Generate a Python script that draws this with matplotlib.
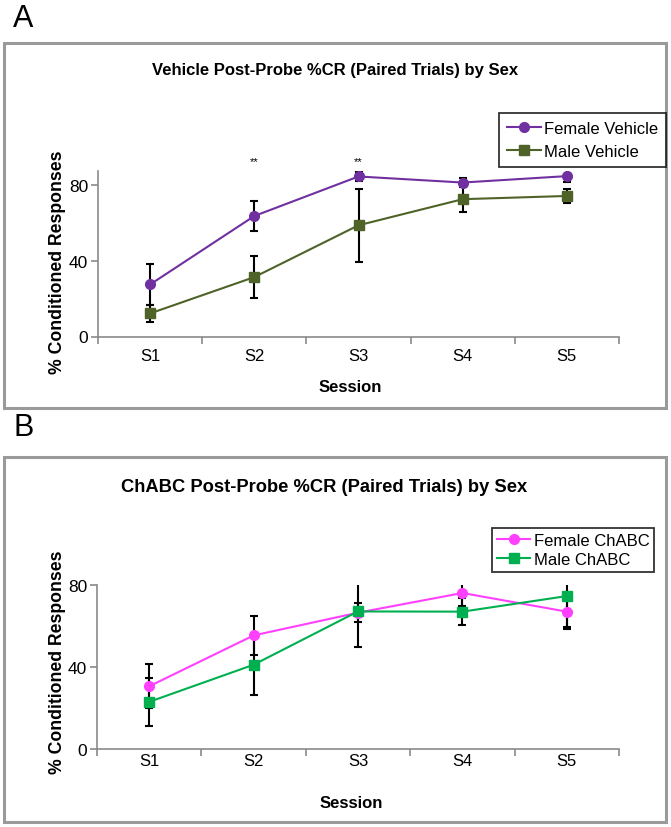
import matplotlib
matplotlib.use("Agg")
import matplotlib.pyplot as plt
from matplotlib.patches import Rectangle
import numpy as np

plt.rcParams['font.family'] = ['Liberation Sans', 'DejaVu Sans']

sessions = ["S1", "S2", "S3", "S4", "S5"]

# Panel A: Vehicle
female_vehicle = [27.5, 63.7, 84.6, 81.4, 84.8]
female_vehicle_err = [10.6, 8.0, 2.3, 2.3, 3.2]
male_vehicle = [12.2, 31.4, 58.8, 72.6, 74.3]
male_vehicle_err = [4.5, 11.2, 19.3, 6.9, 3.8]
star_sessions = ["S2", "S3"]

# Panel B: ChABC
female_chabc = [30.6, 55.4, 66.5, 76.1, 67.0]
female_chabc_err = [10.7, 9.7, 4.6, 6.4, 8.6]
male_chabc = [23.0, 41.1, 67.1, 67.0, 74.6]
male_chabc_err = [11.8, 15.0, 17.4, 6.7, 15.0]

W, H = 671, 828
fig = plt.figure(figsize=(W / 100, H / 100), dpi=100)


def fx(px):
    return px / W


def fy(py):
    return 1 - py / H


axis_gray = "#8a8a8a"


def panel_box(x0, y0, x1, y1):
    r = Rectangle((fx(x0), fy(y1)), fx(x1) - fx(x0), fy(y0) - fy(y1),
                  transform=fig.transFigure, fill=False, edgecolor="#9a9a9a",
                  linewidth=2.2, zorder=0)
    fig.add_artist(r)


def style_axes(ax, ymax, xpad):
    x = np.arange(1, len(sessions) + 1)
    ax.set_xlim(0.5, len(sessions) + 0.5)
    ax.set_ylim(0, ymax)
    for s in ["top", "right"]:
        ax.spines[s].set_visible(False)
    for s in ["left", "bottom"]:
        ax.spines[s].set_color(axis_gray)
        ax.spines[s].set_linewidth(1.2)
    ax.set_yticks([0, 40, 80])
    ax.set_xticks(np.arange(0.5, len(sessions) + 1, 1.0))
    ax.set_xticklabels([])
    ax.set_xticks(x, minor=True)
    ax.set_xticklabels(sessions, minor=True)
    ax.tick_params(axis="x", which="major", direction="out", length=5,
                   color=axis_gray, width=1.2)
    ax.tick_params(axis="x", which="minor", length=0, pad=xpad, labelsize=12)
    ax.tick_params(axis="y", direction="out", length=5, color=axis_gray,
                   width=1.2, labelsize=12.5, pad=2)
    ax.set_facecolor("none")
    return x


def plot_series(ax, x, y, err, color, marker, label):
    ax.errorbar(x, y, yerr=err, fmt="none", ecolor="black", elinewidth=1.5,
                capsize=3.2, capthick=1.5, zorder=2)
    ax.plot(x, y, color=color, marker=marker, markersize=7, linewidth=1.5,
            label=label, zorder=3, clip_on=False)


# ---------------- Panel A ----------------
panel_box(3.5, 43.5, 666, 409)
fig.text(fx(13), fy(19), "A", fontsize=22, ha="left", va="center")
axA = fig.add_axes([fx(98), fy(337.5), fx(619) - fx(98), fy(172) - fy(337.5)])
xA = style_axes(axA, 87.5, 8)
plot_series(axA, xA, female_vehicle, female_vehicle_err, "#7030A0", "o", "Female Vehicle")
plot_series(axA, xA, male_vehicle, male_vehicle_err, "#4F6228", "s", "Male Vehicle")
for s in star_sessions:
    xi = sessions.index(s) + 1
    axA.text(xi, 92.5, "**", ha="center", va="center", fontsize=8, clip_on=False)
fig.text(fx(335), fy(71), "Vehicle Post-Probe %CR (Paired Trials) by Sex",
         ha="center", va="center", fontsize=12, fontweight="bold")
fig.text(fx(350), fy(387), "Session", ha="center", va="center",
         fontsize=12, fontweight="bold")
fig.text(fx(57), fy(262), "% Conditioned Responses", ha="center", va="center",
         rotation=90, fontsize=12.7, fontweight="bold")
legA = axA.legend(loc="upper left", bbox_to_anchor=(fx(499), fy(114)),
                  bbox_transform=fig.transFigure, frameon=True, fancybox=False,
                  edgecolor="black", fontsize=12, borderpad=0.5,
                  handlelength=2.0, handletextpad=0.2, labelspacing=0.45,
                  borderaxespad=0)
legA.get_frame().set_linewidth(1.3)

# ---------------- Panel B ----------------
panel_box(3.5, 458, 666, 823)
fig.text(fx(13), fy(428), "B", fontsize=22, ha="left", va="center")
axB = fig.add_axes([fx(97), fy(750), fx(619) - fx(97), fy(586) - fy(750)])
xB = style_axes(axB, 80, 3)
plot_series(axB, xB, female_chabc, female_chabc_err, "#FF40FF", "o", "Female ChABC")
plot_series(axB, xB, male_chabc, male_chabc_err, "#00B050", "s", "Male ChABC")
fig.text(fx(324.5), fy(488), "ChABC Post-Probe %CR (Paired Trials) by Sex",
         ha="center", va="center", fontsize=13.2, fontweight="bold")
fig.text(fx(351), fy(804), "Session", ha="center", va="center",
         fontsize=12, fontweight="bold")
fig.text(fx(57), fy(662), "% Conditioned Responses", ha="center", va="center",
         rotation=90, fontsize=12.7, fontweight="bold")
legB = axB.legend(loc="upper left", bbox_to_anchor=(fx(492), fy(529)),
                  bbox_transform=fig.transFigure, frameon=True, fancybox=False,
                  edgecolor="black", fontsize=12, borderpad=0.3,
                  handlelength=2.0, handletextpad=0.2, labelspacing=0.25,
                  borderaxespad=0)
legB.get_frame().set_linewidth(1.3)

fig.savefig("out.png", dpi=100)
